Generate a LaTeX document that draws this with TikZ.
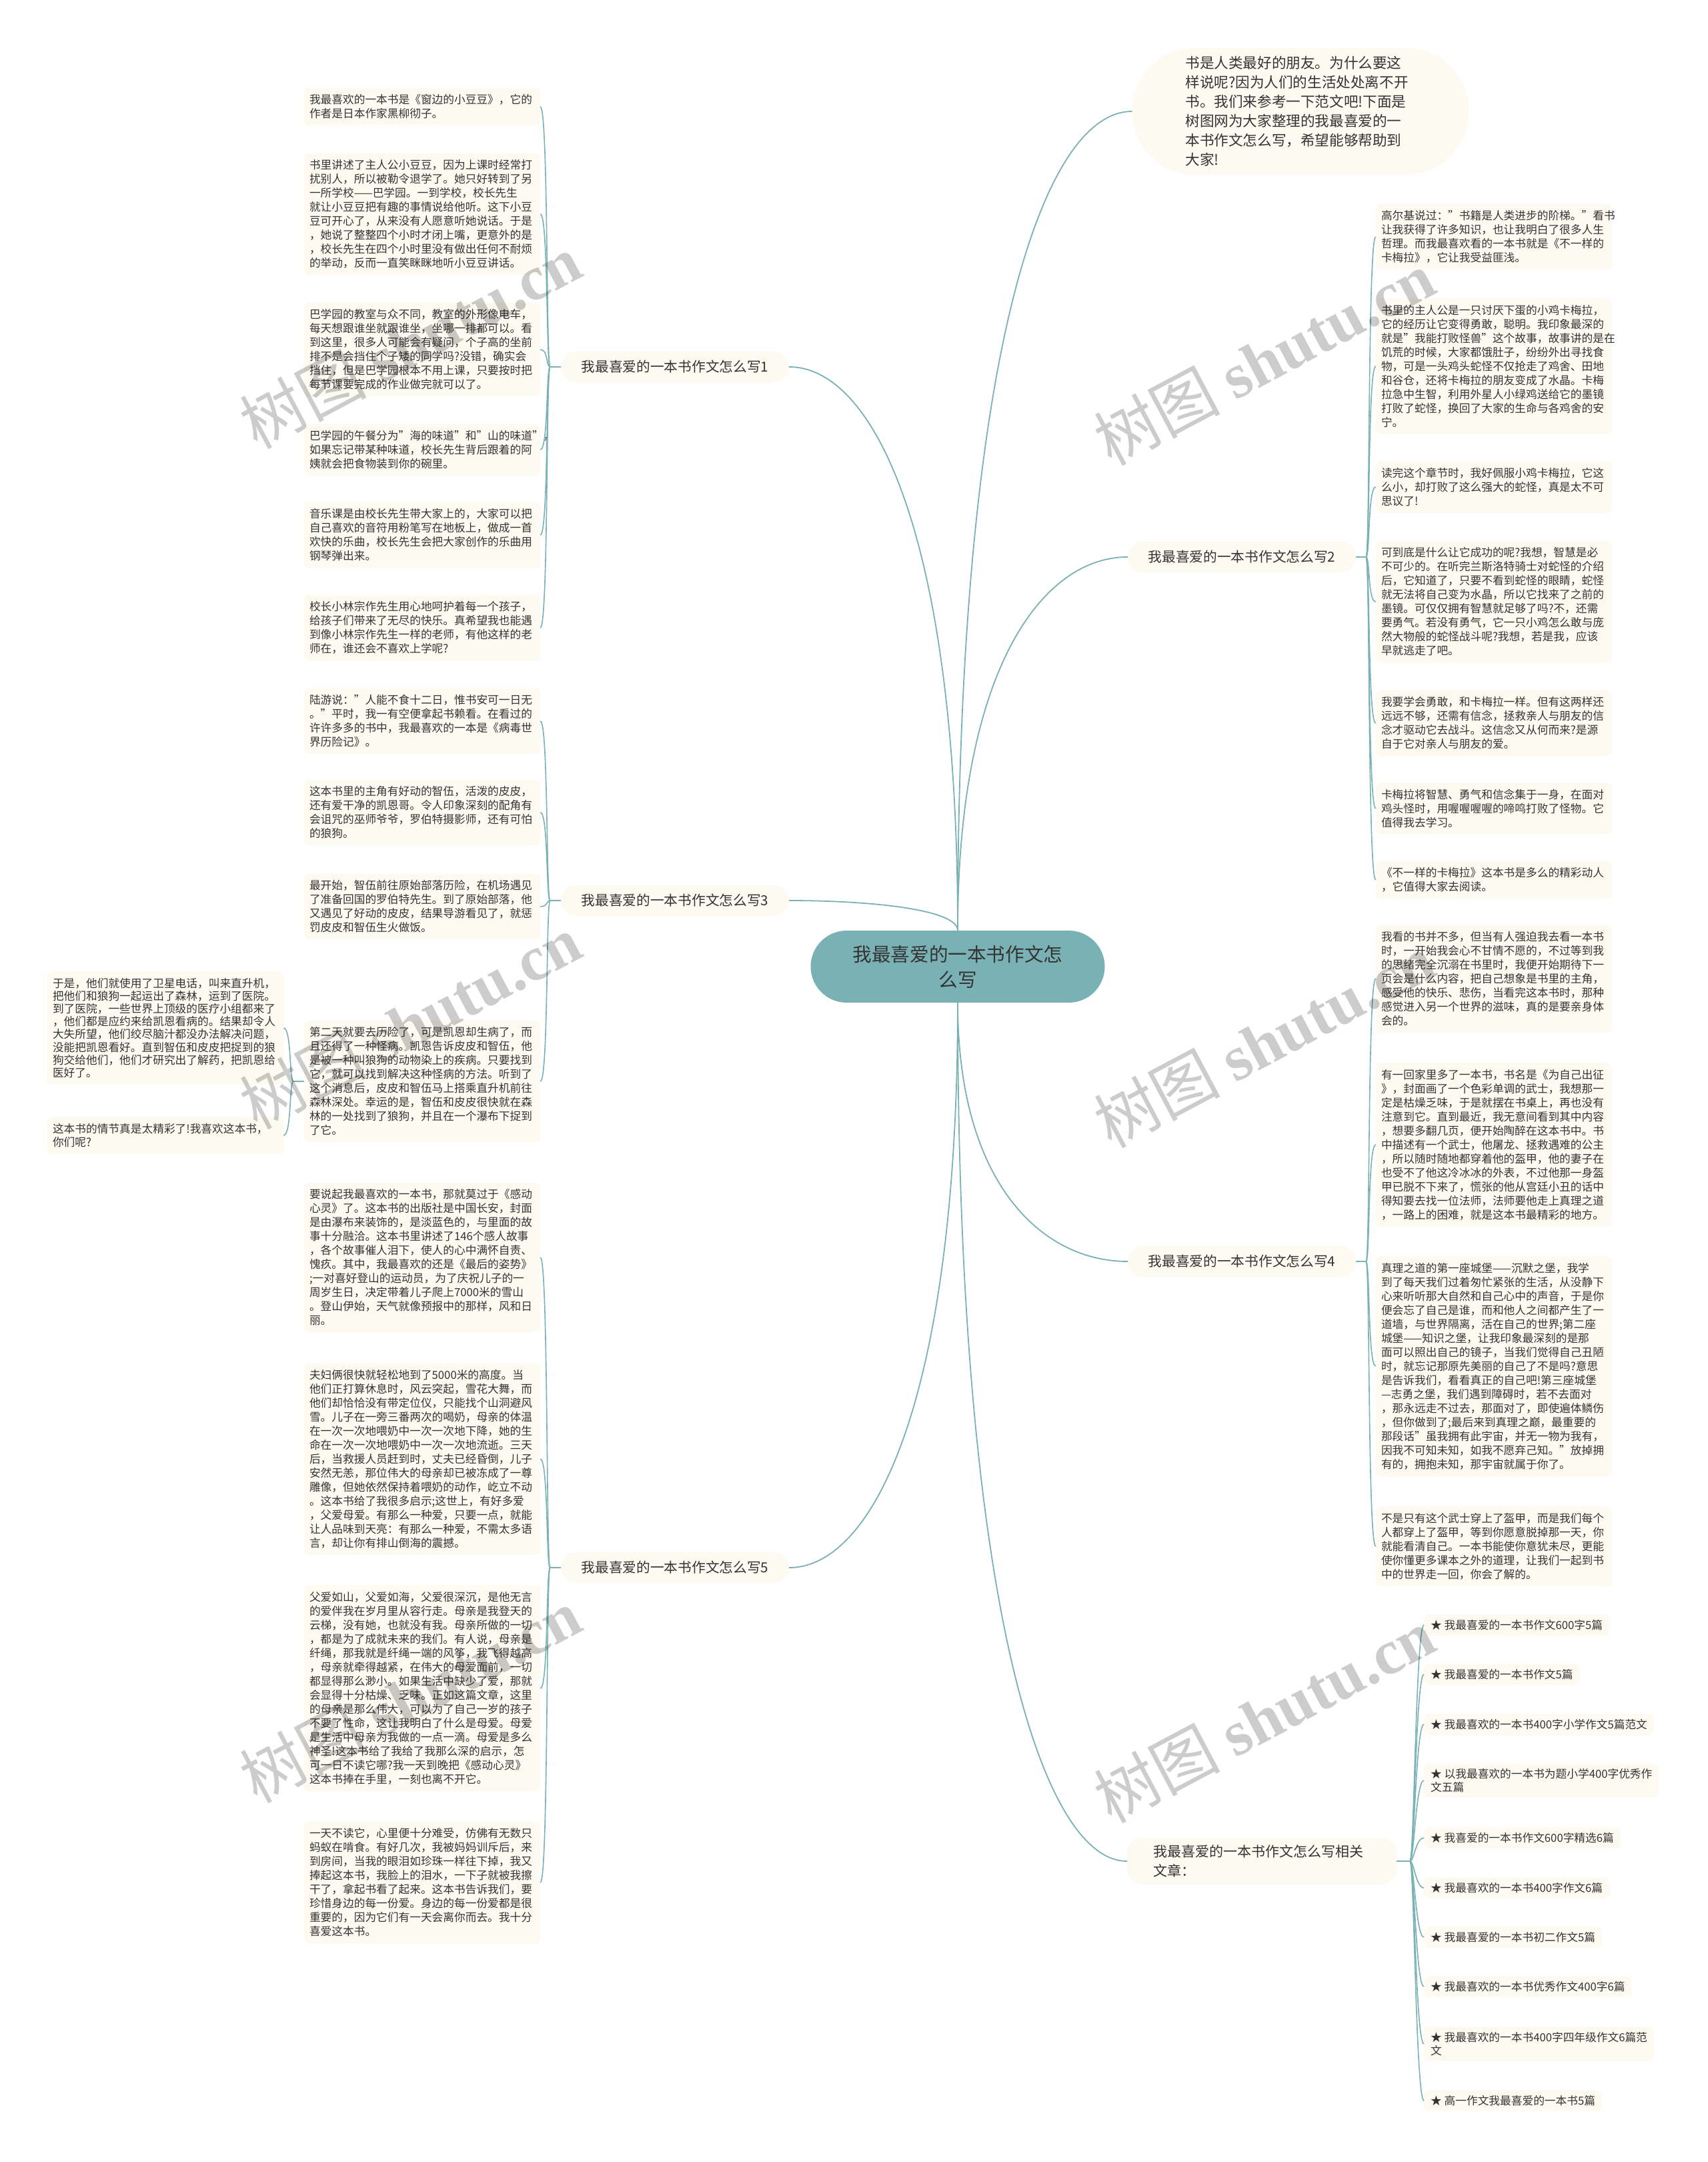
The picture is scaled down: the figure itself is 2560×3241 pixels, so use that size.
\documentclass[tikz,border=0pt]{standalone}
\usepackage{fontspec}
\setmainfont{Noto Sans CJK SC}
\newfontfamily\wmlatin{Liberation Serif}
\usepackage{xcolor}
\usepackage{tikz}

\definecolor{teal1}{RGB}{122,177,180}
\definecolor{cream}{RGB}{252,250,241}
\definecolor{ink}{RGB}{51,51,51}

\begin{document}
\begin{tikzpicture}[x=1pt, y=-1pt,
  root/.style={rectangle, rounded corners=54pt, fill=teal1, text=ink,
    minimum width=441pt, minimum height=108pt, inner sep=0pt,
    align=center, font=\fontsize{28.6}{38}\selectfont},
  intro/.style={rectangle, rounded corners=95pt, fill=cream, text=ink,
    text width=345pt, align=left, inner xsep=80pt, inner ysep=10pt,
    minimum height=190pt, font=\fontsize{21.6}{29}\selectfont},
  sec/.style={rectangle, rounded corners=23pt, fill=cream, text=ink,
    minimum width=342pt, minimum height=46pt, inner sep=0pt,
    font=\fontsize{20.7}{26}\selectfont},
  leaf/.style={rectangle, rounded corners=8pt, fill=cream, text=ink,
    text width=338pt, align=left, inner xsep=8pt, inner ysep=10pt,
    font=\fontsize{16.7}{21}\selectfont},
  leafs/.style={leaf, font=\fontsize{16.7}{19.2}\selectfont},
  item/.style={rectangle, rounded corners=8pt, fill=cream, text=ink,
    align=left, inner xsep=10pt, inner ysep=8pt,
    font=\fontsize{16.7}{19.4}\selectfont},
  stem/.style={draw=teal1, line width=1.8pt},
  link/.style={draw=teal1, line width=1.6pt},
  wm/.style={rotate=28, text=black, opacity=0.2,
    font=\fontsize{95}{95}\selectfont}
]
\fill[white] (0,0) rectangle (2560,3241);
\useasboundingbox (0,0) rectangle (2560,3241);

%% centre
\node[root] (root) at (1436,1449) {我最喜爱的一本书作文怎\\么写};

%% intro (top right)
\node[intro] (intro) at (1950,167) {书是人类最好的朋友。为什么要这\\样说呢?因为人们的生活处处离不开\\书。我们来参考一下范文吧!下面是\\树图网为大家整理的我最喜爱的一\\本书作文怎么写，希望能够帮助到\\大家!};

%% sections
\node[sec] (sec1) at (1012,550)  {我最喜爱的一本书作文怎么写1};
\node[sec] (sec3) at (1012,1350) {我最喜爱的一本书作文怎么写3};
\node[sec] (sec5) at (1012,2350) {我最喜爱的一本书作文怎么写5};
\node[sec] (sec2) at (1862,835)  {我最喜爱的一本书作文怎么写2};
\node[sec] (sec4) at (1862,1891) {我最喜爱的一本书作文怎么写4};
\node[sec, minimum width=404pt, minimum height=70pt, text width=325pt,
  align=left, font=\fontsize{21}{29}\selectfont] (sec6) at (1892,2790)
  {我最喜爱的一本书作文怎么写相关\\文章：};

%% root -> sections
\draw[stem] (intro.west) .. controls (1563,167)  and (1436,535)  .. (root.north);
\draw[stem] (sec1.east)  .. controls (1310,550)  and (1436,804)  .. (root.north);
\draw[stem] (sec3.east)  .. controls (1310,1350) and (1436,1364) .. (root.north);
\draw[stem] (sec5.east)  .. controls (1310,2350) and (1436,2096) .. (root.south);
\draw[stem] (sec2.west)  .. controls (1563,835)  and (1436,1003) .. (root.north);
\draw[stem] (sec4.west)  .. controls (1563,1891) and (1436,1775) .. (root.south);
\draw[stem] (sec6.west)  .. controls (1563,2790) and (1436,2404) .. (root.south);

%% section 1 leaves
\node[leaf] (s1a) at (633,160) {我最喜欢的一本书是《窗边的小豆豆》，它的\\作者是日本作家黑柳彻子。};
\node[leaf] (s1b) at (633,321) {书里讲述了主人公小豆豆，因为上课时经常打\\扰别人，所以被勒令退学了。她只好转到了另\\一所学校——巴学园。一到学校，校长先生\\就让小豆豆把有趣的事情说给他听。这下小豆\\豆可开心了，从来没有人愿意听她说话。于是\\，她说了整整四个小时才闭上嘴，更意外的是\\，校长先生在四个小时里没有做出任何不耐烦\\的举动，反而一直笑眯眯地听小豆豆讲话。};
\node[leaf] (s1c) at (633,524) {巴学园的教室与众不同，教室的外形像电车，\\每天想跟谁坐就跟谁坐，坐哪一排都可以。看\\到这里，很多人可能会有疑问，个子高的坐前\\排不是会挡住个子矮的同学吗?没错，确实会\\挡住，但是巴学园根本不用上课，只要按时把\\每节课要完成的作业做完就可以了。};
\node[leaf] (s1d) at (633,674) {巴学园的午餐分为"海的味道"和"山的味道"，\\如果忘记带某种味道，校长先生背后跟着的阿\\姨就会把食物装到你的碗里。};
\node[leaf] (s1e) at (633,802) {音乐课是由校长先生带大家上的，大家可以把\\自己喜欢的音符用粉笔写在地板上，做成一首\\欢快的乐曲，校长先生会把大家创作的乐曲用\\钢琴弹出来。};
\node[leaf] (s1f) at (633,941) {校长小林宗作先生用心地呵护着每一个孩子，\\给孩子们带来了无尽的快乐。真希望我也能遇\\到像小林宗作先生一样的老师，有他这样的老\\师在，谁还会不喜欢上学呢?};

\coordinate (h1) at ([xshift=-16pt]sec1.west);
\draw[link] (sec1.west) -- (h1);
\draw[link] (h1) .. controls +(-6,0) and +(12,0) .. (s1a.east);
\draw[link] (h1) .. controls +(-6,0) and +(12,0) .. (s1b.east);
\draw[link] (h1) .. controls +(-6,0) and +(12,0) .. (s1c.east);
\draw[link] (h1) .. controls +(-6,0) and +(12,0) .. (s1d.east);
\draw[link] (h1) .. controls +(-6,0) and +(12,0) .. (s1e.east);
\draw[link] (h1) .. controls +(-6,0) and +(12,0) .. (s1f.east);

%% section 3 leaves
\node[leaf] (s3a) at (633,1081) {陆游说："人能不食十二日，惟书安可一日无\\。"平时，我一有空便拿起书赖看。在看过的\\许许多多的书中，我最喜欢的一本是《病毒世\\界历险记》。};
\node[leaf] (s3b) at (633,1218) {这本书里的主角有好动的智伍，活泼的皮皮，\\还有爱干净的凯恩哥。令人印象深刻的配角有\\会诅咒的巫师爷爷，罗伯特摄影师，还有可怕\\的狼狗。};
\node[leaf] (s3c) at (633,1359) {最开始，智伍前往原始部落历险，在机场遇见\\了准备回国的罗伯特先生。到了原始部落，他\\又遇见了好动的皮皮，结果导游看见了，就惩\\罚皮皮和智伍生火做饭。};
\node[leaf] (s3d) at (633,1621) {第二天就要去历险了，可是凯恩却生病了，而\\且还得了一种怪病。凯恩告诉皮皮和智伍，他\\是被一种叫狼狗的动物染上的疾病。只要找到\\它，就可以找到解决这种怪病的方法。听到了\\这个消息后，皮皮和智伍马上搭乘直升机前往\\森林深处。幸运的是，智伍和皮皮很快就在森\\林的一处找到了狼狗，并且在一个瀑布下捉到\\了它。};
\node[leafs] (s3e) at (248,1541) {于是，他们就使用了卫星电话，叫来直升机，\\把他们和狼狗一起运出了森林，运到了医院。\\到了医院，一些世界上顶级的医疗小组都来了\\，他们都是应约来给凯恩看病的。结果却令人\\大失所望，他们绞尽脑汁都没办法解决问题，\\没能把凯恩看好。直到智伍和皮皮把捉到的狼\\狗交给他们，他们才研究出了解药，把凯恩给\\医好了。};
\node[leafs] (s3f) at (248,1702) {这本书的情节真是太精彩了!我喜欢这本书，\\你们呢?};

\coordinate (h3) at ([xshift=-16pt]sec3.west);
\draw[link] (sec3.west) -- (h3);
\draw[link] (h3) .. controls +(-6,0) and +(12,0) .. (s3a.east);
\draw[link] (h3) .. controls +(-6,0) and +(12,0) .. (s3b.east);
\draw[link] (h3) .. controls +(-6,0) and +(12,0) .. (s3c.east);
\draw[link] (h3) .. controls +(-6,0) and +(12,0) .. (s3d.east);
\coordinate (h3d) at ([xshift=-16pt]s3d.west);
\draw[link] (s3d.west) -- (h3d);
\draw[link] (h3d) .. controls +(-6,0) and +(12,0) .. (s3e.east);
\draw[link] (h3d) .. controls +(-6,0) and +(12,0) .. (s3f.east);

%% section 5 leaves
\node[leaf] (s5a) at (633,1885) {要说起我最喜欢的一本书，那就莫过于《感动\\心灵》了。这本书的出版社是中国长安，封面\\是由瀑布来装饰的，是淡蓝色的，与里面的故\\事十分融洽。这本书里讲述了146个感人故事\\，各个故事催人泪下，使人的心中满怀自责、\\愧疚。其中，我最喜欢的还是《最后的姿势》\\;一对喜好登山的运动员，为了庆祝儿子的一\\周岁生日，决定带着儿子爬上7000米的雪山\\。登山伊始，天气就像预报中的那样，风和日\\丽。};
\node[leaf] (s5b) at (633,2187) {夫妇俩很快就轻松地到了5000米的高度。当\\他们正打算休息时，风云突起，雪花大舞，而\\他们却恰恰没有带定位仪，只能找个山洞避风\\雪。儿子在一旁三番两次的喝奶，母亲的体温\\在一次一次地喂奶中一次一次地下降，她的生\\命在一次一次地喂奶中一次一次地流逝。三天\\后，当救援人员赶到时，丈夫已经昏倒，儿子\\安然无恙，那位伟大的母亲却已被冻成了一尊\\雕像，但她依然保持着喂奶的动作，屹立不动\\。这本书给了我很多启示;这世上，有好多爱\\，父爱母爱。有那么一种爱，只要一点，就能\\让人品味到天亮：有那么一种爱，不需太多语\\言，却让你有排山倒海的震撼。};
\node[leaf] (s5c) at (633,2531) {父爱如山，父爱如海，父爱很深沉，是他无言\\的爱伴我在岁月里从容行走。母亲是我登天的\\云梯，没有她，也就没有我。母亲所做的一切\\，都是为了成就未来的我们。有人说，母亲是\\纤绳，那我就是纤绳一端的风筝，我飞得越高\\，母亲就牵得越紧，在伟大的母爱面前，一切\\都显得那么渺小。如果生活中缺少了爱，那就\\会显得十分枯燥、乏味。正如这篇文章，这里\\的母亲是那么伟大，可以为了自己一岁的孩子\\不要了性命，这让我明白了什么是母爱。母爱\\是生活中母亲为我做的一点一滴。母爱是多么\\神圣!这本书给了我给了我那么深的启示，怎\\可一日不读它哪?我一天到晚把《感动心灵》\\这本书捧在手里，一刻也离不开它。};
\node[leaf] (s5d) at (633,2822) {一天不读它，心里便十分难受，仿佛有无数只\\蚂蚁在啃食。有好几次，我被妈妈训斥后，来\\到房间，当我的眼泪如珍珠一样往下掉，我又\\捧起这本书，我脸上的泪水，一下子就被我擦\\干了，拿起书看了起来。这本书告诉我们，要\\珍惜身边的每一份爱。身边的每一份爱都是很\\重要的，因为它们有一天会离你而去。我十分\\喜爱这本书。};

\coordinate (h5) at ([xshift=-16pt]sec5.west);
\draw[link] (sec5.west) -- (h5);
\draw[link] (h5) .. controls +(-6,0) and +(12,0) .. (s5a.east);
\draw[link] (h5) .. controls +(-6,0) and +(12,0) .. (s5b.east);
\draw[link] (h5) .. controls +(-6,0) and +(12,0) .. (s5c.east);
\draw[link] (h5) .. controls +(-6,0) and +(12,0) .. (s5d.east);

%% section 2 leaves
\node[leaf] (s2a) at (2240,355) {高尔基说过："书籍是人类进步的阶梯。"看书\\让我获得了许多知识，也让我明白了很多人生\\哲理。而我最喜欢看的一本书就是《不一样的\\卡梅拉》，它让我受益匪浅。};
\node[leaf] (s2b) at (2240,549) {书里的主人公是一只讨厌下蛋的小鸡卡梅拉，\\它的经历让它变得勇敢，聪明。我印象最深的\\就是"我能打败怪兽"这个故事，故事讲的是在\\饥荒的时候，大家都饿肚子，纷纷外出寻找食\\物，可是一头鸡头蛇怪不仅抢走了鸡舍、田地\\和谷仓，还将卡梅拉的朋友变成了水晶。卡梅\\拉急中生智，利用外星人小绿鸡送给它的墨镜\\打败了蛇怪，换回了大家的生命与各鸡舍的安\\宁。};
\node[leaf] (s2c) at (2240,730) {读完这个章节时，我好佩服小鸡卡梅拉，它这\\么小，却打败了这么强大的蛇怪，真是太不可\\思议了!};
\node[leaf] (s2d) at (2240,902) {可到底是什么让它成功的呢?我想，智慧是必\\不可少的。在听完兰斯洛特骑士对蛇怪的介绍\\后，它知道了，只要不看到蛇怪的眼睛，蛇怪\\就无法将自己变为水晶，所以它找来了之前的\\墨镜。可仅仅拥有智慧就足够了吗?不，还需\\要勇气。若没有勇气，它一只小鸡怎么敢与庞\\然大物般的蛇怪战斗呢?我想，若是我，应该\\早就逃走了吧。};
\node[leaf] (s2e) at (2240,1084) {我要学会勇敢，和卡梅拉一样。但有这两样还\\远远不够，还需有信念，拯救亲人与朋友的信\\念才驱动它去战斗。这信念又从何而来?是源\\自于它对亲人与朋友的爱。};
\node[leaf] (s2f) at (2240,1212) {卡梅拉将智慧、勇气和信念集于一身，在面对\\鸡头怪时，用喔喔喔喔的啼鸣打败了怪物。它\\值得我去学习。};
\node[leaf] (s2g) at (2240,1319) {《不一样的卡梅拉》这本书是多么的精彩动人\\，它值得大家去阅读。};

\coordinate (h2) at ([xshift=15pt]sec2.east);
\draw[link] (sec2.east) -- (h2);
\draw[link] (h2) .. controls +(6,0) and +(-12,0) .. (s2a.west);
\draw[link] (h2) .. controls +(6,0) and +(-12,0) .. (s2b.west);
\draw[link] (h2) .. controls +(6,0) and +(-12,0) .. (s2c.west);
\draw[link] (h2) .. controls +(6,0) and +(-12,0) .. (s2d.west);
\draw[link] (h2) .. controls +(6,0) and +(-12,0) .. (s2e.west);
\draw[link] (h2) .. controls +(6,0) and +(-12,0) .. (s2f.west);
\draw[link] (h2) .. controls +(6,0) and +(-12,0) .. (s2g.west);

%% section 4 leaves
\node[leaf] (s4a) at (2240,1467) {我看的书并不多，但当有人强迫我去看一本书\\时，一开始我会心不甘情不愿的，不过等到我\\的思绪完全沉溺在书里时，我便开始期待下一\\页会是什么内容，把自己想象是书里的主角，\\感受他的快乐、悲伤，当看完这本书时，那种\\感觉进入另一个世界的滋味，真的是要亲身体\\会的。};
\node[leaf] (s4b) at (2240,1716) {有一回家里多了一本书，书名是《为自己出征\\》，封面画了一个色彩单调的武士，我想那一\\定是枯燥乏味，于是就摆在书桌上，再也没有\\注意到它。直到最近，我无意间看到其中内容\\，想要多翻几页，便开始陶醉在这本书中。书\\中描述有一个武士，他屠龙、拯救遇难的公主\\，所以随时随地都穿着他的盔甲，他的妻子在\\也受不了他这冷冰冰的外表，不过他那一身盔\\甲已脱不下来了，慌张的他从宫廷小丑的话中\\得知要去找一位法师，法师要他走上真理之道\\，一路上的困难，就是这本书最精彩的地方。};
\node[leaf] (s4c) at (2240,2048) {真理之道的第一座城堡——沉默之堡，我学\\到了每天我们过着匆忙紧张的生活，从没静下\\心来听听那大自然和自己心中的声音，于是你\\便会忘了自己是谁，而和他人之间都产生了一\\道墙，与世界隔离，活在自己的世界;第二座\\城堡——知识之堡，让我印象最深刻的是那\\面可以照出自己的镜子，当我们觉得自己丑陋\\时，就忘记那原先美丽的自己了不是吗?意思\\是告诉我们，看看真正的自己吧!第三座城堡\\—志勇之堡，我们遇到障碍时，若不去面对\\，那永远走不过去，那面对了，即使遍体鳞伤\\，但你做到了;最后来到真理之巅，最重要的\\那段话"虽我拥有此宇宙，并无一物为我有，\\因我不可知未知，如我不愿弃己知。"放掉拥\\有的，拥抱未知，那宇宙就属于你了。};
\node[leaf] (s4d) at (2240,2318) {不是只有这个武士穿上了盔甲，而是我们每个\\人都穿上了盔甲，等到你愿意脱掉那一天，你\\就能看清自己。一本书能使你意犹未尽，更能\\使你懂更多课本之外的道理，让我们一起到书\\中的世界走一回，你会了解的。};

\coordinate (h4) at ([xshift=15pt]sec4.east);
\draw[link] (sec4.east) -- (h4);
\draw[link] (h4) .. controls +(6,0) and +(-12,0) .. (s4a.west);
\draw[link] (h4) .. controls +(6,0) and +(-12,0) .. (s4b.west);
\draw[link] (h4) .. controls +(6,0) and +(-12,0) .. (s4c.west);
\draw[link] (h4) .. controls +(6,0) and +(-12,0) .. (s4d.west);

%% related articles
\node[item, anchor=west] (r1)  at (2135,2436) {★ 我最喜爱的一本书作文600字5篇};
\node[item, anchor=west] (r2)  at (2135,2510) {★ 我最喜爱的一本书作文5篇};
\node[item, anchor=west] (r3)  at (2135,2585) {★ 我最喜欢的一本书400字小学作文5篇范文};
\node[item, anchor=west] (r4)  at (2135,2669) {★ 以我最喜欢的一本书为题小学400字优秀作\\文五篇};
\node[item, anchor=west] (r5)  at (2135,2755) {★ 我喜爱的一本书作文600字精选6篇};
\node[item, anchor=west] (r6)  at (2135,2830) {★ 我最喜欢的一本书400字作文6篇};
\node[item, anchor=west] (r7)  at (2135,2904) {★ 我最喜爱的一本书初二作文5篇};
\node[item, anchor=west] (r8)  at (2135,2978) {★ 我最喜欢的一本书优秀作文400字6篇};
\node[item, anchor=west] (r9)  at (2135,3064) {★ 我最喜欢的一本书400字四年级作文6篇范\\文};
\node[item, anchor=west] (r10) at (2135,3149) {★ 高一作文我最喜爱的一本书5篇};

\coordinate (h6) at ([xshift=20pt]sec6.east);
\draw[link] (sec6.east) -- (h6);
\draw[link] (h6) .. controls +(6,0) and +(-12,0) .. (r1.west);
\draw[link] (h6) .. controls +(6,0) and +(-12,0) .. (r2.west);
\draw[link] (h6) .. controls +(6,0) and +(-12,0) .. (r3.west);
\draw[link] (h6) .. controls +(6,0) and +(-12,0) .. (r4.west);
\draw[link] (h6) .. controls +(6,0) and +(-12,0) .. (r5.west);
\draw[link] (h6) .. controls +(6,0) and +(-12,0) .. (r6.west);
\draw[link] (h6) .. controls +(6,0) and +(-12,0) .. (r7.west);
\draw[link] (h6) .. controls +(6,0) and +(-12,0) .. (r8.west);
\draw[link] (h6) .. controls +(6,0) and +(-12,0) .. (r9.west);
\draw[link] (h6) .. controls +(6,0) and +(-12,0) .. (r10.west);

%% watermarks
\node[wm] (wm1) at (615,512)   {树图 {\wmlatin\bfseries shutu.cn}};
\node[wm] (wm2) at (615,1532)  {树图 {\wmlatin\bfseries shutu.cn}};
\node[wm] (wm3) at (615,2542)  {树图 {\wmlatin\bfseries shutu.cn}};
\node[wm] (wm4) at (1895,537)  {树图 {\wmlatin\bfseries shutu.cn}};
\node[wm] (wm5) at (1895,1560) {树图 {\wmlatin\bfseries shutu.cn}};
\node[wm] (wm6) at (1895,2572) {树图 {\wmlatin\bfseries shutu.cn}};

\end{tikzpicture}
\end{document}
